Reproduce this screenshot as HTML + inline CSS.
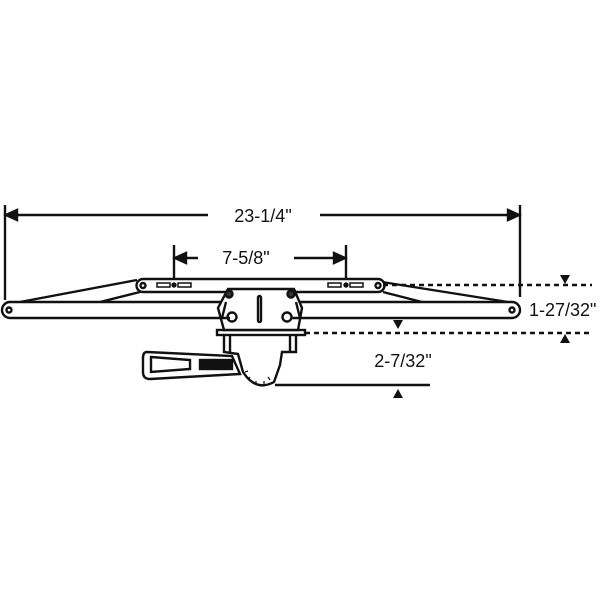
<!DOCTYPE html>
<html><head><style>body{margin:0;background:#fff}svg{display:block}text{font-family:"Liberation Sans",sans-serif;fill:#111}</style></head>
<body>
<svg width="600" height="600" viewBox="0 0 600 600" fill="none" stroke="#111" stroke-width="2.4">
<line x1="5" y1="205" x2="5" y2="300"/><line x1="520" y1="205" x2="520" y2="297"/>
<line x1="6" y1="215" x2="208" y2="215"/><line x1="320" y1="215" x2="519" y2="215"/>
<polygon points="6,215 17,210 17,220" fill="#111"/><polygon points="519,215 508,210 508,220" fill="#111"/>
<text x="263" y="222" font-size="18" text-anchor="middle" stroke="none">23-1/4"</text>
<line x1="174" y1="245" x2="174" y2="278"/><line x1="346" y1="245" x2="346" y2="278"/>
<line x1="175" y1="258" x2="198" y2="258"/><line x1="294" y1="258" x2="345" y2="258"/>
<polygon points="175,258 186,253 186,263" fill="#111"/><polygon points="345,258 334,253 334,263" fill="#111"/>
<text x="246" y="264" font-size="18" text-anchor="middle" stroke="none">7-5/8"</text>
<line x1="20" y1="302" x2="137" y2="280"/><line x1="100" y1="302" x2="140" y2="292"/>
<line x1="382" y1="282" x2="508" y2="302"/><line x1="383" y1="292" x2="422" y2="302"/>
<path d="M143,279 H378 A6.5,6.5 0 0 1 378,292 H143 A6.5,6.5 0 0 1 143,279 Z" fill="#fff"/>
<circle cx="143" cy="285.5" r="2.5"/><circle cx="378" cy="285.5" r="2.5"/>
<rect x="157" y="283" width="13" height="4" stroke-width="1.5"/><circle cx="174" cy="285" r="1.5" fill="#111"/><rect x="178" y="283" width="13" height="4" stroke-width="1.5"/>
<rect x="328" y="283" width="13" height="4" stroke-width="1.5"/><circle cx="346" cy="285" r="1.5" fill="#111"/><rect x="350" y="283" width="13" height="4" stroke-width="1.5"/>
<path d="M10,302 H512 A8,8 0 0 1 512,318 H10 A8,8 0 0 1 10,302 Z" fill="#fff"/>
<circle cx="9" cy="310" r="2.5"/><circle cx="512" cy="310" r="2.5"/>
<path d="M147,352 L232,356 L240,374 L150,379 Q143,379 143,372 L143,358 Q143,352 147,352 Z" fill="#fff"/>
<path d="M151,357 L190,360 L190,369 L151,372 Z"/>
<rect x="200" y="360" width="32" height="9" fill="#111"/>
<path d="M224,334 V352 L238,354 L243,372 Q256,392 274,382 L280,365 L282,352 L296,352 V334" fill="#fff"/>
<path d="M248,380 l2,-3 M256,384 l0,-3 M264,384 l0,-3 M270,380 l-2,-3 M245,372 l3,-1" stroke-width="1.2"/>
<line x1="230" y1="334" x2="230" y2="352"/><line x1="290" y1="334" x2="290" y2="352"/>
<rect x="217" y="330" width="88" height="5" fill="#fff"/>
<path d="M228,289 H294 L302,308 L298,330 H224 L218,308 Z" fill="#fff"/>
<path d="M226,302 L222,318 L230,318 M296,302 L300,318 L292,318"/>
<circle cx="229" cy="294" r="3.5" fill="#333"/><circle cx="291" cy="294" r="3.5" fill="#333"/>
<circle cx="232" cy="317" r="4.5"/><circle cx="287" cy="317" r="4.5"/>
<rect x="258" y="296" width="3" height="26" rx="1.5"/>
<line x1="383" y1="285" x2="592" y2="285" stroke-dasharray="5,4"/>
<line x1="305" y1="333" x2="590" y2="333" stroke-dasharray="5,4"/>
<line x1="275" y1="385" x2="430" y2="385"/>
<polygon points="560,275 570,275 565,284" fill="#111" stroke="none"/>
<polygon points="560,343 570,343 565,334" fill="#111" stroke="none"/>
<polygon points="393,320 403,320 398,329" fill="#111" stroke="none"/>
<polygon points="393,398 403,398 398,389" fill="#111" stroke="none"/>
<text x="529" y="316" font-size="18" stroke="none">1-27/32"</text>
<text x="403" y="367" font-size="18" text-anchor="middle" stroke="none">2-7/32"</text>
</svg>
</body></html>
